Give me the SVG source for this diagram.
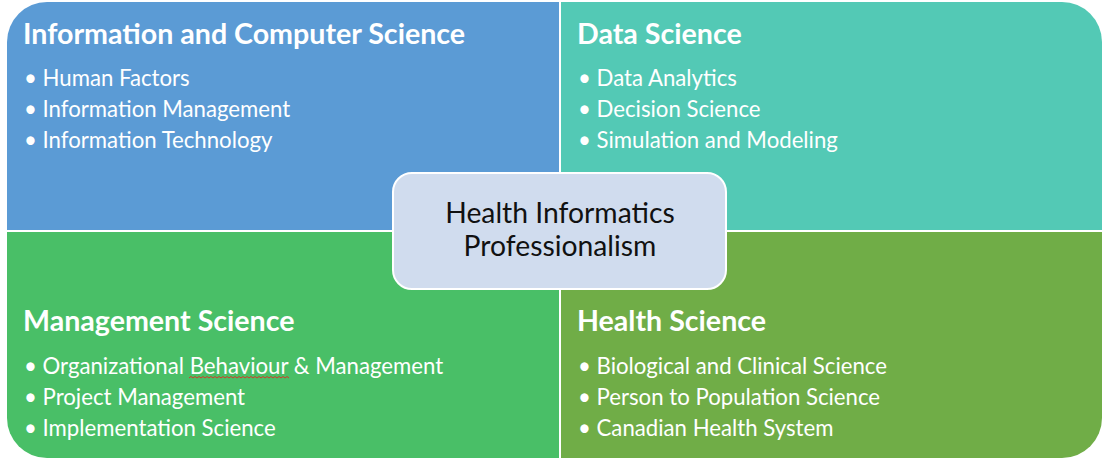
<svg xmlns="http://www.w3.org/2000/svg" width="1102" height="458" viewBox="0 0 1102 458">
<style>
.title{font-family:Lato,"Open Sans","Liberation Sans",sans-serif;font-weight:bold;font-size:28.6px;fill:#ffffff}
.item{font-family:Lato,"Open Sans","Liberation Sans",sans-serif;font-size:22.2px;fill:#ffffff}
.center{font-family:Lato,"Open Sans","Liberation Sans",sans-serif;font-size:28.3px;fill:#111111}
</style>
<rect width="1102" height="458" fill="#ffffff"/>
<g id="info-cs">
<path d="M7,42 A40,40 0 0 1 47,2 L559,2 L559,230 L7,230 Z" fill="#5b9bd5"/>
<text class="title" x="23" y="44">Information and Computer Science</text>
<text class="item" x="24" y="86">• Human Factors</text>
<text class="item" x="24" y="117">• Information Management</text>
<text class="item" x="24" y="148">• Information Technology</text>
</g>
<g id="data-science">
<path d="M561,2 L1062,2 A40,40 0 0 1 1102,42 L1102,230 L561,230 Z" fill="#53c9b5"/>
<text class="title" x="577" y="44">Data Science</text>
<text class="item" x="578" y="86">• Data Analytics</text>
<text class="item" x="578" y="117">• Decision Science</text>
<text class="item" x="578" y="148">• Simulation and Modeling</text>
</g>
<g id="management-science">
<path d="M7,232 L559,232 L559,458 L47,458 A40,40 0 0 1 7,418 Z" fill="#49bf67"/>
<text class="title" x="23" y="331">Management Science</text>
<text class="item" x="24" y="374">• Organizational Behaviour &amp; Management</text>
<text class="item" x="24" y="405">• Project Management</text>
<text class="item" x="24" y="436">• Implementation Science</text>
<path d="M189,378 l2,-1.5 l2,1.5 l2,-1.5 l2,1.5 l2,-1.5 l2,1.5 l2,-1.5 l2,1.5 l2,-1.5 l2,1.5 l2,-1.5 l2,1.5 l2,-1.5 l2,1.5 l2,-1.5 l2,1.5 l2,-1.5 l2,1.5 l2,-1.5 l2,1.5 l2,-1.5 l2,1.5 l2,-1.5 l2,1.5 l2,-1.5 l2,1.5 l2,-1.5 l2,1.5 l2,-1.5 l2,1.5 l2,-1.5 l2,1.5 l2,-1.5 l2,1.5 l2,-1.5 l2,1.5 l2,-1.5 l2,1.5 l2,-1.5 l2,1.5 l2,-1.5 l2,1.5 l2,-1.5 l2,1.5 l2,-1.5 l2,1.5 l2,-1.5 l2,1.5 l2,-1.5 l2,1.5" fill="none" stroke="#d23a2a" stroke-width="1"/>
</g>
<g id="health-science">
<path d="M561,232 L1102,232 L1102,418 A40,40 0 0 1 1062,458 L561,458 Z" fill="#70ad47"/>
<text class="title" x="577" y="331">Health Science</text>
<text class="item" x="578" y="374">• Biological and Clinical Science</text>
<text class="item" x="578" y="405">• Person to Population Science</text>
<text class="item" x="578" y="436">• Canadian Health System</text>
</g>
<g id="center-node">
<rect x="393" y="173" width="333" height="116" rx="19" fill="#d0dcee" stroke="#ffffff" stroke-width="2"/>
<text class="center" x="560" y="223" text-anchor="middle">Health Informatics</text>
<text class="center" x="560" y="256" text-anchor="middle">Professionalism</text>
</g>
<g id="connectors"/>
</svg>
